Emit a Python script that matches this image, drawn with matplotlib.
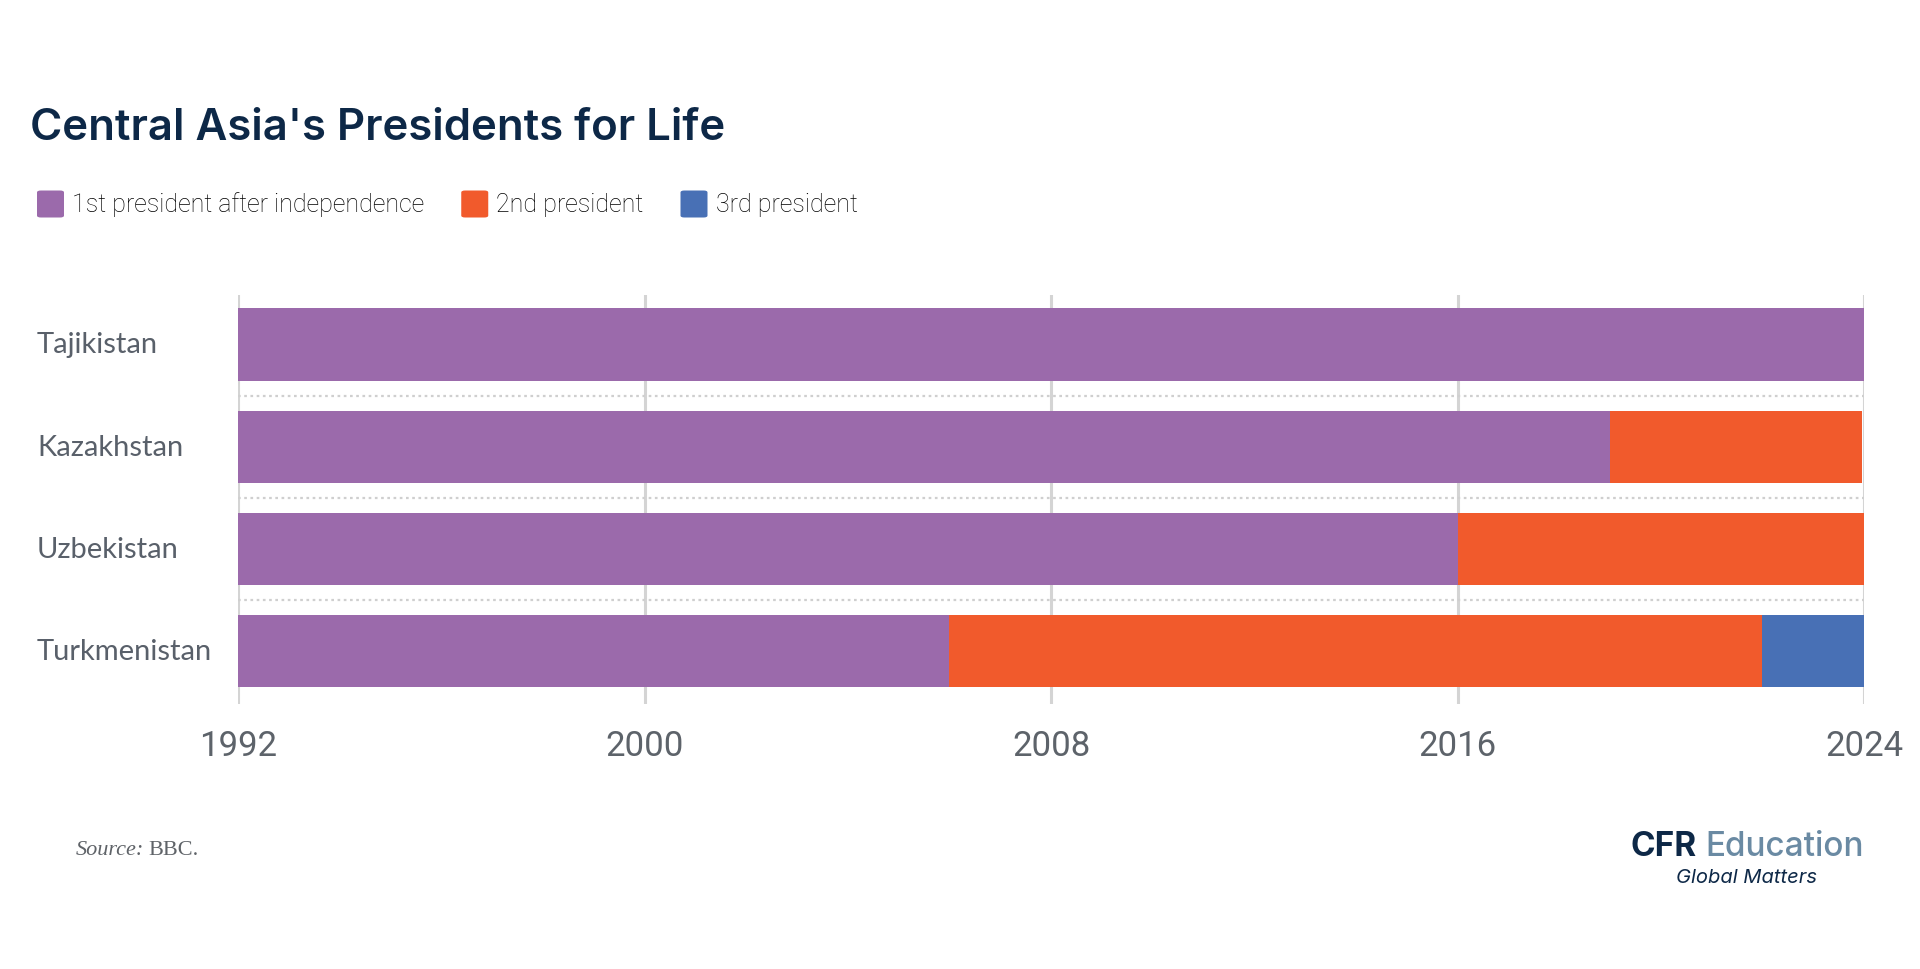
import matplotlib
matplotlib.use("Agg")
import matplotlib.pyplot as plt
from matplotlib.patches import FancyBboxPatch
from matplotlib.transforms import blended_transform_factory

# data
countries = ["Tajikistan", "Kazakhstan", "Uzbekistan", "Turkmenistan"]
start_year = 1992
first_end = [2024, 2019, 2016, 2006]
second_end = [2024, 2023.96, 2024, 2022]
third_end = [2024, 2023.96, 2024, 2024]
series_labels = ["1st president after independence", "2nd president", "3rd president"]
series_colors = ["#9b6aab", "#f15a2c", "#4870b5"]
year_ticks = [1992, 2000, 2008, 2016, 2024]

W, H = 1920, 970
fig = plt.figure(figsize=(W / 100, H / 100), dpi=100)
fig.patch.set_facecolor("white")

ax = fig.add_axes([238 / W, 1 - 705 / H, (1864 - 238) / W, (705 - 296) / H])
ax.set_xlim(1992, 2024)
ax.set_ylim(3.517, -0.484)
for s in ax.spines.values():
    s.set_visible(False)

for yr in year_ticks:
    ax.axvline(yr, color="#d4d4d4", lw=2.2, zorder=0)

bar_h = 0.707
ys = list(range(len(countries)))
lefts = [start_year] * len(countries)
w1 = [e - s for e, s in zip(first_end, lefts)]
w2 = [e - s for e, s in zip(second_end, first_end)]
w3 = [e - s for e, s in zip(third_end, second_end)]
ax.barh(ys, w1, left=lefts, height=bar_h, color=series_colors[0], zorder=2)
ax.barh(ys, w2, left=first_end, height=bar_h, color=series_colors[1], zorder=2)
ax.barh(ys, w3, left=second_end, height=bar_h, color=series_colors[2], zorder=2)

for i in range(len(countries) - 1):
    ax.plot([1992, 2024], [i + 0.5, i + 0.5], color="#cfcfcf", lw=1.6,
            ls=(0, (1.2, 1.6)), zorder=1)

ax.set_yticks([])
ax.set_xticks(year_ticks)
ax.set_xticklabels([str(y) for y in year_ticks], family="Roboto", fontsize=25, color="#5d636a")
ax.tick_params(axis="x", length=0, pad=18)

tr = blended_transform_factory(fig.transFigure, ax.transData)
for i, c in enumerate(countries):
    ax.text(37 / W, i, c, transform=tr, ha="left", va="center", family="Lato",
            fontsize=21, color="#59606a")

# title
fig.text(30 / W, 1 - 129 / H, "Central Asia's Presidents for Life", family="Inter",
         fontweight="semibold", fontsize=31.5, color="#0d2847", ha="left", va="center")

# legend
fig.canvas.draw()
renderer = fig.canvas.get_renderer()
x = 37
ly = 1 - 205 / H
for lab, col in zip(series_labels, series_colors):
    sw = FancyBboxPatch((x / W, ly - 13.5 / H), 27 / W, 27 / H,
                        boxstyle="round,pad=0,rounding_size=0.002",
                        transform=fig.transFigure, facecolor=col, edgecolor="none")
    fig.patches.append(sw)
    t = fig.text((x + 35) / W, ly, lab, family="Roboto", fontweight="light", fontsize=18,
                 color="#000000", ha="left", va="center")
    bb = t.get_window_extent(renderer)
    x = bb.x1 + 37

# source
t1 = fig.text(76 / W, 1 - 851 / H, "Source:", family="Liberation Serif", style="italic",
              fontsize=16, color="#5f6368", ha="left", va="center")
bb = t1.get_window_extent(renderer)
fig.text(bb.x1 / W + 4 / W, 1 - 851 / H, "BBC.", family="Liberation Serif",
         fontsize=16, color="#5f6368", ha="left", va="center")

# logo
t2 = fig.text(1864 / W, 1 - 847 / H, "Education", family="Inter", fontweight="medium",
              fontsize=24, color="#6a8aa3", ha="right", va="center")
bb = t2.get_window_extent(renderer)
fig.text(bb.x0 / W - 9 / W, 1 - 847 / H, "CFR", family="Inter", fontweight="bold",
         fontsize=24, color="#0d2847", ha="right", va="center")
fig.text(1747 / W, 1 - 878 / H, "Global Matters", family="Inter", style="italic",
         fontsize=14.5, color="#0d2847", ha="center", va="center")

fig.savefig("out.png", dpi=100, facecolor="white")
